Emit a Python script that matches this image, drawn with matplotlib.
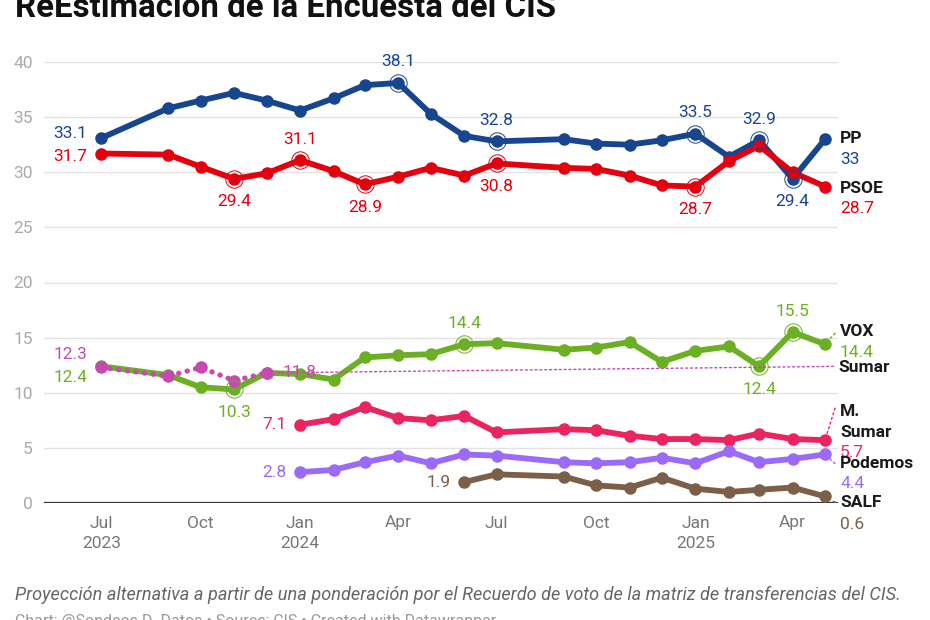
import numpy as np
import pandas as pd
import matplotlib
matplotlib.use("Agg")
import matplotlib.pyplot as plt

plt.rcParams['font.family'] = ['Roboto', 'DejaVu Sans']

nan = np.nan

# survey months (CIS barometers)
dates = pd.to_datetime([
    '2023-07-01', '2023-09-01', '2023-10-01', '2023-11-01', '2023-12-01',
    '2024-01-01', '2024-02-01', '2024-03-01', '2024-04-01', '2024-05-01',
    '2024-06-01', '2024-07-01', '2024-09-01', '2024-10-01', '2024-11-01',
    '2024-12-01', '2025-01-01', '2025-02-01', '2025-03-01', '2025-04-01',
    '2025-05-01'])

pp = [33.1, 35.8, 36.5, 37.2, 36.5, 35.6, 36.7, 37.9, 38.1, 35.3, 33.3,
      32.8, 33.0, 32.6, 32.5, 32.9, 33.5, 31.4, 32.9, 29.4, 33.0]
psoe = [31.7, 31.6, 30.5, 29.4, 29.9, 31.1, 30.1, 28.9, 29.6, 30.4, 29.7,
        30.8, 30.4, 30.3, 29.7, 28.8, 28.7, 31.0, 32.4, 30.0, 28.7]
vox = [12.4, 11.6, 10.5, 10.3, 11.8, 11.7, 11.2, 13.2, 13.4, 13.5, 14.4,
       14.5, 13.9, 14.1, 14.6, 12.8, 13.8, 14.2, 12.4, 15.5, 14.4]
sumar = [12.3, 11.5, 12.3, 11.1, 11.8] + [nan] * 16
msumar = [nan] * 5 + [7.1, 7.6, 8.7, 7.7, 7.5, 7.9, 6.4, 6.7, 6.6, 6.1, 5.8,
                      5.8, 5.7, 6.3, 5.8, 5.7]
podemos = [nan] * 5 + [2.8, 3.0, 3.7, 4.3, 3.6, 4.4, 4.3, 3.7, 3.6, 3.7, 4.1,
                       3.6, 4.7, 3.7, 4.0, 4.4]
salf = [nan] * 10 + [1.9, 2.6, 2.4, 1.6, 1.4, 2.3, 1.3, 1.0, 1.2, 1.4, 0.6]

x_ticks = pd.to_datetime(['2023-07-01', '2023-10-01', '2024-01-01', '2024-04-01',
                          '2024-07-01', '2024-10-01', '2025-01-01', '2025-04-01'])
x_labels = ['Jul\n2023', 'Oct', 'Jan\n2024', 'Apr', 'Jul', 'Oct', 'Jan\n2025', 'Apr']
y_ticks = [0, 5, 10, 15, 20, 25, 30, 35, 40]

title = 'ReEstimación de la Encuesta del CIS'
note = ('Proyección alternativa a partir de una ponderación por el Recuerdo de voto '
        'de la matriz de transferencias del CIS.')
credit = 'Chart: @Sondeos D. Datos • Source: CIS • Created with Datawrapper'

# name, values, colour, dotted
series = [
    ('PP', pp, '#17468f', False),
    ('PSOE', psoe, '#e3000f', False),
    ('VOX', vox, '#6bb024', False),
    ('Sumar', sumar, '#c64ab0', True),
    ('M. Sumar', msumar, '#ea2460', False),
    ('Podemos', podemos, '#9b6bf7', False),
    ('SALF', salf, '#7b5f48', False),
]

# inline value labels: (index, where) ; ringed points get a circle
value_labels = {
    'PP': [(0, 'left_up'), (8, 'above'), (11, 'above'), (16, 'above'), (18, 'above'), (19, 'below')],
    'PSOE': [(0, 'left_dn'), (3, 'below'), (5, 'above'), (7, 'below'), (11, 'below'), (16, 'below')],
    'VOX': [(0, 'left_dn2'), (3, 'below'), (10, 'above'), (18, 'below'), (19, 'above')],
    'Sumar': [(0, 'left_up2'), (4, 'right')],
    'M. Sumar': [(5, 'left')],
    'Podemos': [(5, 'left')],
    'SALF': [(10, 'left')],
}
rings = {'PP': [8, 11, 16, 18, 19], 'PSOE': [3, 5, 7, 11, 16], 'VOX': [3, 10, 18, 19]}
offsets = {'above': (0, 21, 'center'), 'below': (0, -23, 'center'),
           'left': (-14, 0, 'right'), 'left_up': (-14, 5, 'right'),
           'left_dn': (-14, -3, 'right'), 'left_dn2': (-14, -11, 'right'),
           'left_up2': (-14, 13, 'right'), 'right': (16, 0, 'left')}

# right-hand labels: (name lines offset list, value offset, connector end) in pixels from last point
end_labels = {
    'PP': ([('PP', 15, 1)], (15, -20), None),
    'PSOE': ([('PSOE', 15, -1.5)], (15, -21.5), None),
    'VOX': ([('VOX', 15, 13)], (15, -8), (10, 11)),
    'Sumar': ([('Sumar', 572, 5.5)], None, (567, 6.5)),
    'M. Sumar': ([('M.', 15, 29), ('Sumar', 15, 8)], (15, -12), (10, 32)),
    'Podemos': ([('Podemos', 15, -9)], (15, -29), (10, -9)),
    'SALF': ([('SALF', 15, -6)], (15, -28), (10, -6)),
}

fig = plt.figure(figsize=(9.3, 6.2), dpi=100)
ax = fig.add_axes([44 / 930, 117 / 620, 794 / 930, 441 / 620])
ax.set_xlim(pd.Timestamp('2023-05-09'), pd.Timestamp('2025-05-13'))
ax.set_ylim(0, 40)

for y in y_ticks[1:]:
    ax.axhline(y, color='#e2e2e2', lw=1, zorder=0)
ax.axhline(0, color='#333333', lw=1.6, zorder=1)

for name, vals, col, dotted in series:
    vals = np.array(vals, dtype=float)
    if dotted:
        ax.plot(dates, vals, color=col, lw=3.8, ls=(0, (0.05, 1.6)),
                solid_capstyle='round', dash_capstyle='round', zorder=3)
        ax.plot(dates, vals, 'o', color=col, ms=8, zorder=3)
    else:
        ax.plot(dates, vals, color=col, lw=4.2, marker='o', ms=8,
                solid_joinstyle='round', solid_capstyle='round', zorder=3)
    for i in rings.get(name, []):
        ax.plot(dates[i], vals[i], 'o', ms=12.5, mfc='none', mec=col, mew=0.7,
                zorder=4, clip_on=False)
    for i, where in value_labels[name]:
        dx, dy, ha = offsets[where]
        ax.annotate(f'{vals[i]:g}', (dates[i], vals[i]), xytext=(dx, dy),
                    textcoords='offset pixels', ha=ha, va='center',
                    fontsize=12.5, color=col, zorder=5)

    last = np.where(~np.isnan(vals))[0][-1]
    lx, ly = dates[last], vals[last]
    lines, vpos, conn = end_labels[name]
    if conn is not None:
        ax.annotate('', (lx, ly), xytext=conn, textcoords='offset pixels',
                    arrowprops=dict(arrowstyle='-', color=col, lw=1, ls=(0, (1.5, 2)),
                                    shrinkA=0, shrinkB=5),
                    annotation_clip=False)
    for txt, dx, dy in lines:
        ax.annotate(txt, (lx, ly), xytext=(dx, dy), textcoords='offset pixels',
                    ha='left', va='center', fontsize=12.5, fontweight='bold',
                    color='#1a1a1a', annotation_clip=False)
    if vpos is not None:
        ax.annotate(f'{vals[last]:g}', (lx, ly), xytext=vpos, textcoords='offset pixels',
                    ha='left', va='center', fontsize=12.5, color=col,
                    annotation_clip=False)

for s in ax.spines.values():
    s.set_visible(False)
ax.set_yticks(y_ticks)
ax.set_yticklabels([str(v) for v in y_ticks])
ax.set_xticks(x_ticks)
ax.set_xticklabels(x_labels, linespacing=1.45)
ax.tick_params(axis='y', length=0, pad=8, labelsize=12.5, labelcolor='#aaaaaa')
ax.tick_params(axis='x', length=0, pad=9, labelsize=12.5, labelcolor='#777777')

fig.text(15 / 930, 1 - 17 / 620, title, fontsize=23.8, fontweight='bold',
         color='#111111', va='baseline', ha='left')
fig.text(15 / 930, 1 - 595 / 620, note, fontsize=13.1, style='italic',
         color='#666666', va='center', ha='left')
fig.text(15 / 930, 1 - 614 / 620, credit, fontsize=11.5, color='#999999',
         va='top', ha='left')

fig.savefig('out.png', dpi=100)
